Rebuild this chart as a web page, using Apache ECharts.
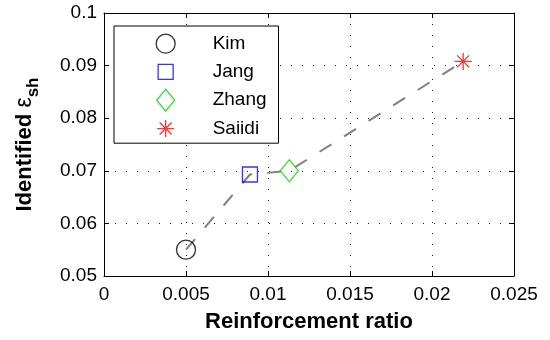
<!DOCTYPE html>
<html>
<head>
<meta charset="utf-8">
<style>
  html, body { margin: 0; padding: 0; background: #fff; }
  #chart { width: 550px; height: 340px; }
</style>
<script src="https://cdn.jsdelivr.net/npm/echarts@6/dist/echarts.min.js"></script>
</head>
<body>
<div id="chart"></div>
<script>
// Identified shrinkage strain versus reinforcement ratio, one point per study
const studies = ['Kim', 'Jang', 'Zhang', 'Saiidi'];
const reinforcementRatio = [0.005, 0.0089, 0.0113, 0.0219];
const identifiedEpsSh = [0.055, 0.0693, 0.0700, 0.0908];

// Axis ranges and tick steps
const xRange = [0, 0.025];
const xStep = 0.005;
const yRange = [0.05, 0.1];
const yStep = 0.01;

const FONT = '"Liberation Sans", Arial, Helvetica, sans-serif';

// Marker look per study (MATLAB-style open markers)
const starPath = 'path://M0,8.5H17M8.5,0V17M2.5,2.5L14.5,14.5M2.5,14.5L14.5,2.5';
const markerStyle = {
  Kim:    { symbol: 'circle',  size: 19,       color: '#000000' },
  Jang:   { symbol: 'rect',    size: 15,       color: '#0000ff' },
  Zhang:  { symbol: 'diamond', size: [18, 22], color: '#00dd00' },
  Saiidi: { symbol: starPath,  size: 17,       color: '#ff0000' }
};

// Legend icons drawn inside a fixed 22x22 box so each keeps its own size
const legendIcons = {
  Kim:    'path://M0,0M22,22M1.5,11a9.5,9.5 0 1,0 19,0a9.5,9.5 0 1,0 -19,0z',
  Jang:   'path://M0,0M22,22M3.5,3.5H18.5V18.5H3.5Z',
  Zhang:  'path://M0,0M22,22M11,0L20,11L11,22L2,11Z',
  Saiidi: 'path://M0,0M22,22M2.5,11H19.5M11,2.5V19.5M5,5L17,17M5,17L17,5'
};

const fmtX = v => (v === 0 ? '0' : String(+v.toFixed(3)));
const fmtY = v => String(+v.toFixed(2));

const axisLine = { show: true, onZero: false, lineStyle: { color: '#000', width: 1 } };
const tickIn = { show: true, inside: true, length: 5, lineStyle: { color: '#000', width: 1 } };
const dotted = { show: true, lineStyle: { color: '#222', width: 1, type: [1, 10] } };
const tickLabel = { color: '#000', fontFamily: FONT, fontSize: 19 };

const scatterSeries = studies.map((name, i) => ({
  name: name,
  type: 'scatter',
  z: 5,
  symbol: markerStyle[name].symbol,
  symbolSize: markerStyle[name].size,
  itemStyle: {
    color: 'transparent',
    borderColor: markerStyle[name].color,
    borderWidth: 1.3
  },
  emphasis: { disabled: true },
  data: [[reinforcementRatio[i], identifiedEpsSh[i]]]
}));

const option = {
  animation: false,
  backgroundColor: '#ffffff',
  grid: { left: 104, right: 36, top: 13, bottom: 64, containLabel: false },
  xAxis: [
    {
      type: 'value', position: 'bottom',
      min: xRange[0], max: xRange[1], interval: xStep,
      axisLine: axisLine, axisTick: tickIn, splitLine: dotted,
      axisLabel: Object.assign({ margin: 9, formatter: fmtX }, tickLabel),
      name: 'Reinforcement ratio',
      nameLocation: 'middle', nameGap: 35,
      nameTextStyle: { color: '#000', fontFamily: FONT, fontSize: 22, fontWeight: 'bold' }
    },
    {
      type: 'value', position: 'top',
      min: xRange[0], max: xRange[1], interval: xStep,
      axisLine: axisLine, axisTick: tickIn,
      splitLine: { show: false }, axisLabel: { show: false }
    }
  ],
  yAxis: [
    {
      type: 'value', position: 'left',
      min: yRange[0], max: yRange[1], interval: yStep,
      axisLine: axisLine, axisTick: tickIn, splitLine: dotted,
      axisLabel: Object.assign({ margin: 7, formatter: fmtY }, tickLabel),
      name: '{m|Identified }{e|ε}{s|sh}',
      nameLocation: 'middle', nameRotate: 90, nameGap: 62,
      nameTextStyle: {
        color: '#000', fontFamily: FONT,
        rich: {
          m: { fontFamily: FONT, fontSize: 22, fontWeight: 'bold', color: '#000', lineHeight: 34, verticalAlign: 'middle' },
          e: { fontFamily: FONT, fontSize: 23, fontWeight: 'normal', color: '#000', lineHeight: 34, verticalAlign: 'middle' },
          s: { fontFamily: FONT, fontSize: 17, fontWeight: 'bold', color: '#000', lineHeight: 34, verticalAlign: 'bottom' }
        }
      }
    },
    {
      type: 'value', position: 'right',
      min: yRange[0], max: yRange[1], interval: yStep,
      axisLine: axisLine, axisTick: tickIn,
      splitLine: { show: false }, axisLabel: { show: false }
    }
  ],
  legend: {
    orient: 'vertical',
    left: 114, top: 26,
    padding: [6, 12, 3, 40],
    itemWidth: 22, itemHeight: 22, itemGap: 5,
    backgroundColor: '#ffffff',
    borderColor: '#000', borderWidth: 1, borderRadius: 0,
    selectedMode: false,
    itemStyle: { borderWidth: 1.3 },
    textStyle: { color: '#000', fontFamily: FONT, fontSize: 19, padding: [0, 0, 0, 31] },
    data: studies.map(name => ({ name: name, icon: legendIcons[name] }))
  },
  series: [
    {
      name: 'trend',
      type: 'line',
      z: 3,
      symbol: 'none',
      silent: true,
      lineStyle: { color: '#808080', width: 2, type: [14, 15], cap: 'butt' },
      data: reinforcementRatio.map((x, i) => [x, identifiedEpsSh[i]])
    }
  ].concat(scatterSeries)
};

const chart = echarts.init(document.getElementById('chart'), null, { renderer: 'canvas' });
chart.setOption(option);
</script>
</body>
</html>
